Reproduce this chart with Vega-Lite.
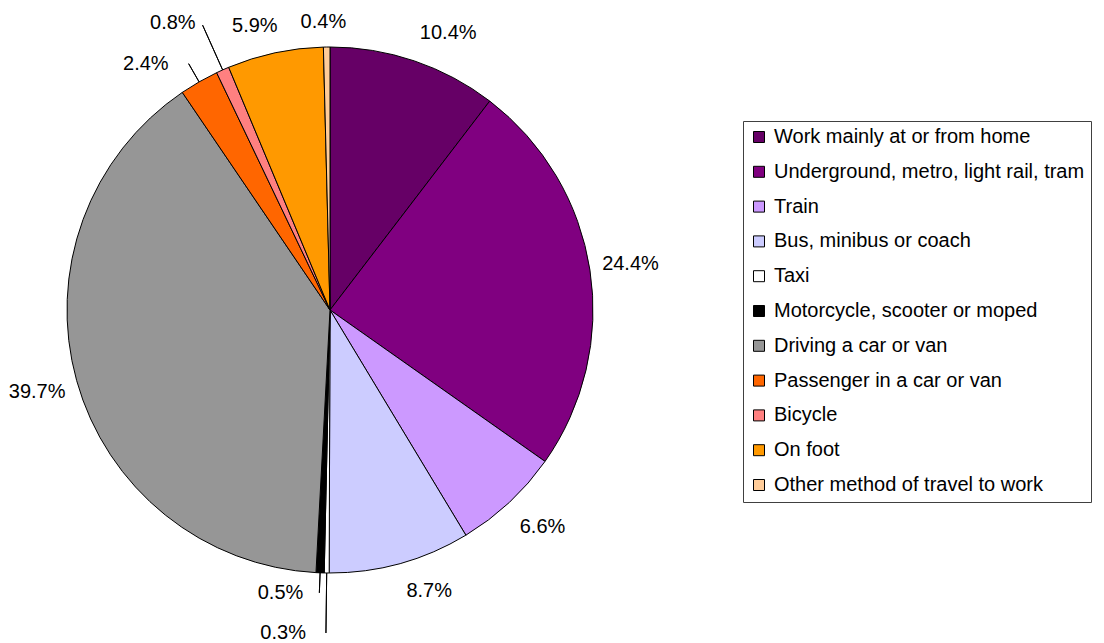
{
  "$schema": "https://vega.github.io/schema/vega-lite/v6.json",
  "width": 660,
  "height": 620,
  "autosize": "none",
  "padding": {"left": 0, "top": 0, "right": 444, "bottom": 23},
  "background": "white",
  "config": {"view": {"stroke": null}, "text": {"font": "Liberation Sans"}},
  "data": {"values": [
    {"mode": "Work mainly at or from home", "share": 0.104},
    {"mode": "Underground, metro, light rail, tram", "share": 0.244},
    {"mode": "Train", "share": 0.066},
    {"mode": "Bus, minibus or coach", "share": 0.087},
    {"mode": "Taxi", "share": 0.003},
    {"mode": "Motorcycle, scooter or moped", "share": 0.005},
    {"mode": "Driving a car or van", "share": 0.397},
    {"mode": "Passenger in a car or van", "share": 0.024},
    {"mode": "Bicycle", "share": 0.008},
    {"mode": "On foot", "share": 0.059},
    {"mode": "Other method of travel to work", "share": 0.004}
  ]},
  "transform": [
    {"window": [{"op": "row_number", "as": "n"}]},
    {"stack": "share", "groupby": [], "sort": [{"field": "n", "order": "ascending"}], "as": ["s0", "s1"], "offset": "normalize"},
    {"calculate": "(datum.s0 + datum.s1) / 2", "as": "mid"}
  ],
  "layer": [
    {
      "mark": {"type": "arc", "outerRadius": 263, "stroke": "#000000", "strokeWidth": 1},
      "encoding": {
        "theta": {"field": "s0", "type": "quantitative", "scale": {"domain": [0, 1], "range": [0, 6.283185307]}},
        "theta2": {"field": "s1"},
        "color": {
          "field": "mode", "type": "nominal", "sort": null,
          "scale": {
            "domain": ["Work mainly at or from home", "Underground, metro, light rail, tram", "Train", "Bus, minibus or coach", "Taxi", "Motorcycle, scooter or moped", "Driving a car or van", "Passenger in a car or van", "Bicycle", "On foot", "Other method of travel to work"],
            "range": ["#660066", "#800080", "#CC99FF", "#CCCCFF", "#FFFFFF", "#000000", "#969696", "#FF6600", "#FF8080", "#FF9900", "#FFCC99"]
          },
          "legend": {
            "title": null,
            "orient": "none",
            "legendX": 743,
            "legendY": 121,
            "symbolType": "square",
            "symbolSize": 121,
            "symbolStrokeColor": "#000000",
            "symbolStrokeWidth": 1,
            "symbolOpacity": 1,
            "labelFont": "Liberation Sans",
            "labelFontSize": 20,
            "labelColor": "#000000",
            "labelLimit": 400,
            "labelOffset": 5,
            "rowPadding": 14.8,
            "padding": 6,
            "strokeColor": "#404040",
            "fillColor": "#FFFFFF"
          }
        }
      }
    },
    {
      "transform": [{"filter": {"field": "mode", "oneOf": ["Passenger in a car or van"]}}],
      "mark": {"type": "arc", "innerRadius": 263, "outerRadius": 284, "fill": null, "stroke": "#000000", "strokeWidth": 1},
      "encoding": {"theta": {"field": "mid", "type": "quantitative"}, "theta2": {"field": "mid"}}
    },
    {
      "transform": [{"filter": {"field": "mode", "oneOf": ["Bicycle"]}}],
      "mark": {"type": "arc", "innerRadius": 263, "outerRadius": 312, "fill": null, "stroke": "#000000", "strokeWidth": 1},
      "encoding": {"theta": {"field": "mid", "type": "quantitative"}, "theta2": {"field": "mid"}}
    },
    {
      "transform": [{"filter": {"field": "mode", "oneOf": ["Motorcycle, scooter or moped"]}}],
      "mark": {"type": "arc", "innerRadius": 263, "outerRadius": 283, "fill": null, "stroke": "#000000", "strokeWidth": 1},
      "encoding": {"theta": {"field": "mid", "type": "quantitative"}, "theta2": {"field": "mid"}}
    },
    {
      "transform": [{"filter": {"field": "mode", "oneOf": ["Taxi"]}}],
      "mark": {"type": "arc", "innerRadius": 263, "outerRadius": 323, "fill": null, "stroke": "#000000", "strokeWidth": 1},
      "encoding": {"theta": {"field": "mid", "type": "quantitative"}, "theta2": {"field": "mid"}}
    },
    {
      "transform": [{"filter": {"field": "mode", "oneOf": ["Driving a car or van", "Underground, metro, light rail, tram"]}}],
      "mark": {"type": "text", "radius": 304, "fontSize": 20, "align": "center", "baseline": "middle", "color": "#000000"},
      "encoding": {"theta": {"field": "mid", "type": "quantitative"}, "text": {"field": "share", "type": "quantitative", "format": ".1%"}}
    },
    {
      "transform": [{"filter": {"field": "mode", "oneOf": ["Work mainly at or from home"]}}],
      "mark": {"type": "text", "radius": 300, "dx": 22, "dy": 7, "fontSize": 20, "align": "center", "baseline": "middle", "color": "#000000"},
      "encoding": {"theta": {"field": "mid", "type": "quantitative"}, "text": {"field": "share", "type": "quantitative", "format": ".1%"}}
    },
    {
      "transform": [{"filter": {"field": "mode", "oneOf": ["Train"]}}],
      "mark": {"type": "text", "radius": 300, "dx": 8, "dy": -2, "fontSize": 20, "align": "center", "baseline": "middle", "color": "#000000"},
      "encoding": {"theta": {"field": "mid", "type": "quantitative"}, "text": {"field": "share", "type": "quantitative", "format": ".1%"}}
    },
    {
      "transform": [{"filter": {"field": "mode", "oneOf": ["Bus, minibus or coach"]}}],
      "mark": {"type": "text", "radius": 297, "dx": 20, "dy": -5, "fontSize": 20, "align": "center", "baseline": "middle", "color": "#000000"},
      "encoding": {"theta": {"field": "mid", "type": "quantitative"}, "text": {"field": "share", "type": "quantitative", "format": ".1%"}}
    },
    {
      "transform": [{"filter": {"field": "mode", "oneOf": ["On foot"]}}],
      "mark": {"type": "text", "radius": 293, "dx": -14, "dy": 3, "fontSize": 20, "align": "center", "baseline": "middle", "color": "#000000"},
      "encoding": {"theta": {"field": "mid", "type": "quantitative"}, "text": {"field": "share", "type": "quantitative", "format": ".1%"}}
    },
    {
      "transform": [{"filter": {"field": "mode", "oneOf": ["Other method of travel to work"]}}],
      "mark": {"type": "text", "radius": 288, "dx": -3, "fontSize": 20, "align": "center", "baseline": "middle", "color": "#000000"},
      "encoding": {"theta": {"field": "mid", "type": "quantitative"}, "text": {"field": "share", "type": "quantitative", "format": ".1%"}}
    },
    {
      "transform": [{"filter": {"field": "mode", "oneOf": ["Passenger in a car or van"]}}],
      "mark": {"type": "text", "radius": 284, "dx": -20, "fontSize": 20, "align": "right", "baseline": "middle", "color": "#000000"},
      "encoding": {"theta": {"field": "mid", "type": "quantitative"}, "text": {"field": "share", "type": "quantitative", "format": ".1%"}}
    },
    {
      "transform": [{"filter": {"field": "mode", "oneOf": ["Bicycle"]}}],
      "mark": {"type": "text", "radius": 312, "dx": -7, "dy": -2, "fontSize": 20, "align": "right", "baseline": "middle", "color": "#000000"},
      "encoding": {"theta": {"field": "mid", "type": "quantitative"}, "text": {"field": "share", "type": "quantitative", "format": ".1%"}}
    },
    {
      "transform": [{"filter": {"field": "mode", "oneOf": ["Motorcycle, scooter or moped"]}}],
      "mark": {"type": "text", "radius": 283, "dx": -16, "fontSize": 20, "align": "right", "baseline": "middle", "color": "#000000"},
      "encoding": {"theta": {"field": "mid", "type": "quantitative"}, "text": {"field": "share", "type": "quantitative", "format": ".1%"}}
    },
    {
      "transform": [{"filter": {"field": "mode", "oneOf": ["Taxi"]}}],
      "mark": {"type": "text", "radius": 323, "dx": -20, "fontSize": 20, "align": "right", "baseline": "middle", "color": "#000000"},
      "encoding": {"theta": {"field": "mid", "type": "quantitative"}, "text": {"field": "share", "type": "quantitative", "format": ".1%"}}
    }
  ]
}
